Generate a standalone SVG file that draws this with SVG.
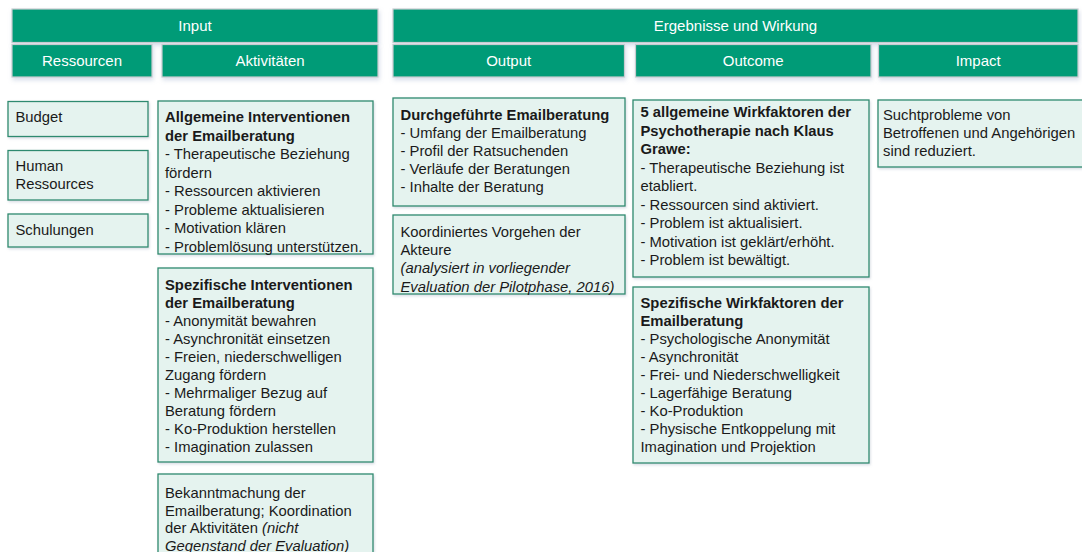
<svg xmlns="http://www.w3.org/2000/svg" width="1082" height="552" viewBox="0 0 1082 552">
<defs>
<filter id="sh" x="-10%" y="-20%" width="120%" height="160%">
<feDropShadow dx="1" dy="2.5" stdDeviation="2" flood-color="#8c9cc4" flood-opacity="0.35"/>
</filter>
<filter id="sh2" x="-10%" y="-10%" width="120%" height="130%">
<feDropShadow dx="1" dy="1.5" stdDeviation="1.2" flood-color="#7f8fa8" flood-opacity="0.3"/>
</filter>
</defs>
<style>
.hd{fill:#009b77;stroke:#c9ccd0;stroke-width:1.2;filter:url(#sh)}
.ht{font-family:"Liberation Sans",Arial,sans-serif;font-size:15px;fill:#ffffff;text-anchor:middle}
.bx{fill:#e5f3ef;stroke:#2f8a6f;stroke-width:1.3;filter:url(#sh2)}
.t{font-family:"Liberation Sans",Arial,sans-serif;font-size:14.8px;fill:#1a1a1a}
.b{font-weight:bold}
.i{font-style:italic}
</style>
<g id="header-input"><rect class="hd" x="12" y="9" width="366" height="33.5"/><text class="ht" x="195" y="31">Input</text></g>
<g id="header-ergebnisse"><rect class="hd" x="393" y="9" width="685" height="33.5"/><text class="ht" x="735.5" y="31">Ergebnisse und Wirkung</text></g>
<g id="header-ressourcen"><rect class="hd" x="12" y="44.5" width="140" height="32.5"/><text class="ht" x="82" y="66">Ressourcen</text></g>
<g id="header-aktivitaeten"><rect class="hd" x="162" y="44.5" width="216" height="32.5"/><text class="ht" x="270" y="66">Aktivitäten</text></g>
<g id="header-output"><rect class="hd" x="393" y="44.5" width="231.5" height="32.5"/><text class="ht" x="508.7" y="66">Output</text></g>
<g id="header-outcome"><rect class="hd" x="635.5" y="44.5" width="235.5" height="32.5"/><text class="ht" x="753.2" y="66">Outcome</text></g>
<g id="header-impact"><rect class="hd" x="878.5" y="44.5" width="199.5" height="32.5"/><text class="ht" x="978.2" y="66">Impact</text></g>

<g id="budget"><rect class="bx" x="8" y="101.5" width="140" height="35"/><text class="t" x="15.5" y="122">Budget</text></g>
<g id="human-ressources"><rect class="bx" x="8" y="150.5" width="140" height="49.5"/><text class="t" x="15.5" y="171">Human</text><text class="t" x="15.5" y="189">Ressources</text></g>
<g id="schulungen"><rect class="bx" x="8" y="214" width="140" height="33"/><text class="t" x="15.5" y="235">Schulungen</text></g>

<g id="allgemeine-interventionen"><rect class="bx" x="158" y="101" width="215" height="153"/>
<text class="t" x="165" y="122"><tspan class="b" x="165">Allgemeine Interventionen</tspan><tspan class="b" x="165" dy="18.5">der Emailberatung</tspan><tspan x="165" dy="18.5">- Therapeutische Beziehung</tspan><tspan x="165" dy="18.5">fördern</tspan><tspan x="165" dy="18.5">- Ressourcen aktivieren</tspan><tspan x="165" dy="18.5">- Probleme aktualisieren</tspan><tspan x="165" dy="18.5">- Motivation klären</tspan><tspan x="165" dy="18.5">- Problemlösung unterstützen.</tspan></text></g>

<g id="spezifische-interventionen"><rect class="bx" x="158" y="268" width="215" height="194"/>
<text class="t" x="165" y="290"><tspan class="b" x="165">Spezifische Interventionen</tspan><tspan class="b" x="165" dy="18">der Emailberatung</tspan><tspan x="165" dy="18">- Anonymität bewahren</tspan><tspan x="165" dy="18">- Asynchronität einsetzen</tspan><tspan x="165" dy="18">- Freien, niederschwelligen</tspan><tspan x="165" dy="18">Zugang fördern</tspan><tspan x="165" dy="18">- Mehrmaliger Bezug auf</tspan><tspan x="165" dy="18">Beratung fördern</tspan><tspan x="165" dy="18">- Ko-Produktion herstellen</tspan><tspan x="165" dy="18">- Imagination zulassen</tspan></text></g>

<g id="bekanntmachung"><rect class="bx" x="158" y="474" width="215" height="90"/>
<text class="t" x="165" y="498"><tspan x="165">Bekanntmachung der</tspan><tspan x="165" dy="17.6">Emailberatung; Koordination</tspan><tspan x="165" dy="17.6">der Aktivitäten <tspan class="i">(nicht</tspan></tspan><tspan class="i" x="165" dy="17.6">Gegenstand der Evaluation)</tspan></text></g>

<g id="durchgefuehrte-emailberatung"><rect class="bx" x="393" y="98" width="232" height="108"/>
<text class="t" x="400.5" y="120"><tspan class="b" x="400.5">Durchgeführte Emailberatung</tspan><tspan x="400.5" dy="18">- Umfang der Emailberatung</tspan><tspan x="400.5" dy="18">- Profil der Ratsuchenden</tspan><tspan x="400.5" dy="18">- Verläufe der Beratungen</tspan><tspan x="400.5" dy="18">- Inhalte der Beratung</tspan></text></g>

<g id="koordiniertes-vorgehen"><rect class="bx" x="393" y="215" width="232" height="79"/>
<text class="t" x="400.5" y="237"><tspan x="400.5">Koordiniertes Vorgehen der</tspan><tspan x="400.5" dy="18.2">Akteure</tspan><tspan class="i" x="400.5" dy="18.2">(analysiert in vorliegender</tspan><tspan class="i" x="400.5" dy="18.2">Evaluation der Pilotphase, 2016)</tspan></text></g>

<g id="allgemeine-wirkfaktoren"><rect class="bx" x="633" y="100" width="236" height="177"/>
<text class="t" x="640.5" y="117"><tspan class="b" x="640.5">5 allgemeine Wirkfaktoren der</tspan><tspan class="b" x="640.5" dy="18.5">Psychotherapie nach Klaus</tspan><tspan class="b" x="640.5" dy="18.5">Grawe:</tspan><tspan x="640.5" dy="18.5">- Therapeutische Beziehung ist</tspan><tspan x="640.5" dy="18.5">etabliert.</tspan><tspan x="640.5" dy="18.5">- Ressourcen sind aktiviert.</tspan><tspan x="640.5" dy="18.5">- Problem ist aktualisiert.</tspan><tspan x="640.5" dy="18.5">- Motivation ist geklärt/erhöht.</tspan><tspan x="640.5" dy="18.5">- Problem ist bewältigt.</tspan></text></g>

<g id="spezifische-wirkfaktoren"><rect class="bx" x="633" y="287" width="236" height="176"/>
<text class="t" x="640.5" y="308"><tspan class="b" x="640.5">Spezifische Wirkfaktoren der</tspan><tspan class="b" x="640.5" dy="18">Emailberatung</tspan><tspan x="640.5" dy="18">- Psychologische Anonymität</tspan><tspan x="640.5" dy="18">- Asynchronität</tspan><tspan x="640.5" dy="18">- Frei- und Niederschwelligkeit</tspan><tspan x="640.5" dy="18">- Lagerfähige Beratung</tspan><tspan x="640.5" dy="18">- Ko-Produktion</tspan><tspan x="640.5" dy="18">- Physische Entkoppelung mit</tspan><tspan x="640.5" dy="18">Imagination und Projektion</tspan></text></g>

<g id="impact-box"><rect class="bx" x="878" y="100" width="214" height="67"/>
<text class="t" x="883" y="120"><tspan x="883">Suchtprobleme von</tspan><tspan x="883" dy="18">Betroffenen und Angehörigen</tspan><tspan x="883" dy="18">sind reduziert.</tspan></text></g>

<g id="connectors"/>
</svg>
